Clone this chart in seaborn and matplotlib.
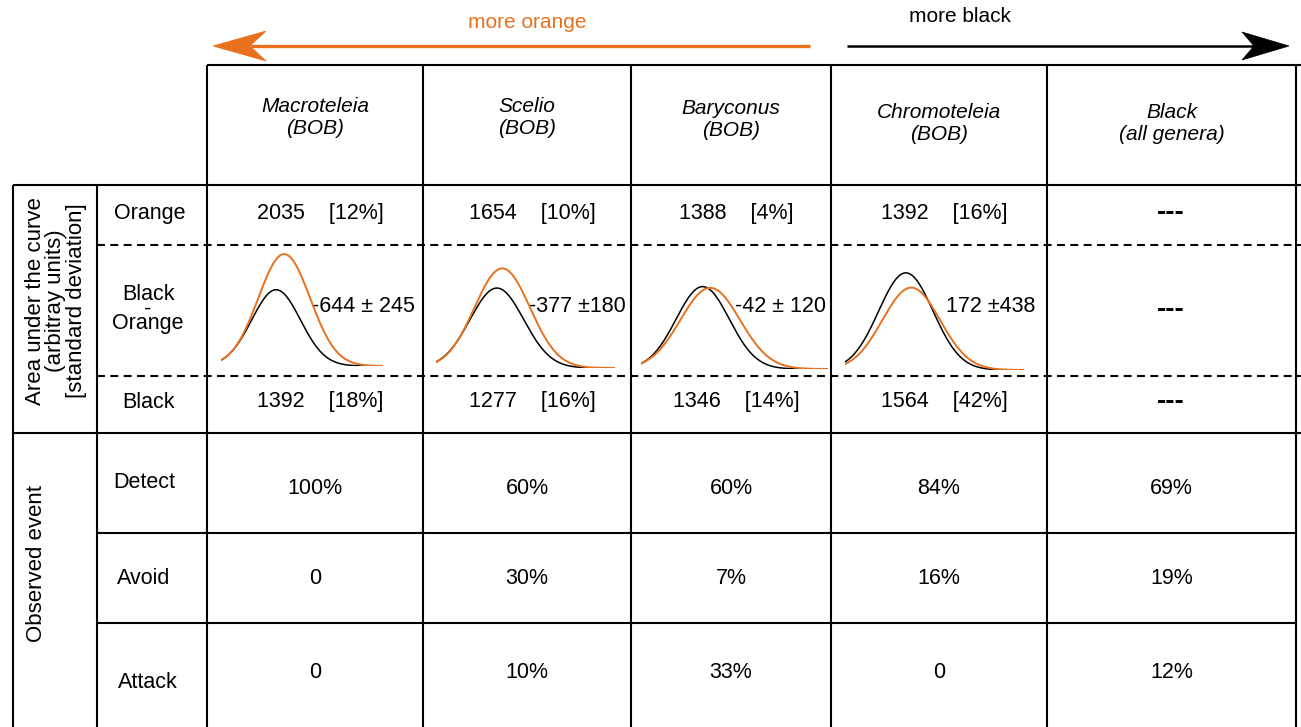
import numpy as np
import pandas as pd
import seaborn as sns
import matplotlib.pyplot as plt
from matplotlib.patches import Polygon

# ---- table content ----
col_names = ["Macroteleia", "Scelio", "Baryconus", "Chromoteleia", "Black"]
col_subs = ["(BOB)", "(BOB)", "(BOB)", "(BOB)", "(all genera)"]

orange_auc = [2035, 1654, 1388, 1392]
orange_sd = [12, 10, 4, 16]
black_auc = [1392, 1277, 1346, 1564]
black_sd = [18, 16, 14, 42]
diff_mean = [-644, -377, -42, 172]
diff_sd = [245, 180, 120, 438]
diff_sep = [" ± ", " ±", " ± ", " ±"]

event_names = ["Detect", "Avoid", "Attack"]
detect = ["100%", "60%", "60%", "84%", "69%"]
avoid = ["0", "30%", "7%", "16%", "19%"]
attack = ["0", "10%", "33%", "0", "12%"]

# schematic response curves (peak position, peak height, width), inset units
black_peak = [0.34, 0.34, 0.33, 0.34]
black_height = [0.62, 0.65, 0.67, 0.79]
black_width = [0.150, 0.150, 0.142, 0.152]
orange_peak = [0.39, 0.37, 0.37, 0.37]
orange_height = [0.91, 0.81, 0.66, 0.67]
orange_width = [0.160, 0.155, 0.159, 0.161]

ORANGE = "#E8711E"
W, H = 1301, 727

sns.set_theme(style="white")
plt.rcParams['font.family'] = ['Liberation Sans', 'DejaVu Sans']
plt.rcParams['text.color'] = 'black'

fig = plt.figure(figsize=(W / 100, H / 100), dpi=100)
ax = fig.add_axes([0, 0, 1, 1])
ax.set_xlim(0, W)
ax.set_ylim(H, 0)
ax.axis('off')

col_edges = [207, 423, 631, 831, 1047, 1296]
col_mid = [(a + b) / 2 for a, b in zip(col_edges[:-1], col_edges[1:])]
solid = dict(color='black', lw=1.5, solid_capstyle='butt')

# grid
for x in col_edges:
    ax.plot([x, x], [65, H], **solid)
for x in [13, 97]:
    ax.plot([x, x], [185, H], **solid)
ax.plot([207, W], [65, 65], **solid)
ax.plot([13, W], [185, 185], **solid)
ax.plot([13, W], [433, 433], **solid)
for y in [533, 623]:
    ax.plot([97, 1296], [y, y], **solid)
for y in [245, 376]:
    ax.plot([97, W], [y, y], color='black', lw=1.5, linestyle=(0, (3.8, 2.6)))

# arrows on top (swept heads)
ax.plot([250, 810], [46, 46], color=ORANGE, lw=2.4, solid_capstyle='butt')
ax.add_patch(Polygon([(213, 46), (266, 31), (250, 46), (266, 61)], closed=True,
                     facecolor=ORANGE, edgecolor=ORANGE, lw=0.5))
ax.plot([847, 1255], [46, 46], color='black', lw=1.8, solid_capstyle='butt')
ax.add_patch(Polygon([(1289, 46), (1242, 32), (1254, 46), (1242, 60)], closed=True,
                     facecolor='black', edgecolor='black', lw=0.5))
ax.text(527, 22, "more orange", color=ORANGE, fontsize=15, ha='center', va='center')
ax.text(960, 17, "more black", color='black', fontsize=15, ha='center', va='center')

# column headers
head_y = [118, 117, 119, 123, 123]
for xm, name, sub, y in zip(col_mid, col_names, col_subs, head_y):
    ax.text(xm, y - 11, name, fontsize=15, style='italic', ha='center', va='center')
    ax.text(xm, y + 11, sub, fontsize=15, style='italic', ha='center', va='center')

# row labels
fs = 15.5
ax.text(150, 213, "Orange", fontsize=fs, ha='center', va='center')
ax.text(148, 309, "Black\n-\nOrange", fontsize=fs, ha='center', va='center', linespacing=0.62)
ax.text(148, 402, "Black", fontsize=fs, ha='center', va='center')
for name, y, x in zip(event_names, [483, 579, 683], [144, 144, 148]):
    ax.text(x, y, name, fontsize=fs, ha='center', va='center')

ax.text(56, 301, "Area under the curve\n(arbitray units)\n[standard deviation]", fontsize=16,
        rotation=90, ha='center', va='center', linespacing=0.95)
ax.text(37, 563, "Observed event", fontsize=16, rotation=90, ha='center', va='center')

# AUC rows
for i in range(4):
    ax.text(col_mid[i] + 5, 213, f"{orange_auc[i]}    [{orange_sd[i]}%]", fontsize=fs, ha='center', va='center')
    ax.text(col_mid[i] + 5, 402, f"{black_auc[i]}    [{black_sd[i]}%]", fontsize=fs, ha='center', va='center')
diff_x = [312, 529, 735, 946]
for i in range(4):
    ax.text(diff_x[i], 307, f"{diff_mean[i]}{diff_sep[i]}{diff_sd[i]}",
            fontsize=fs, ha='left', va='center')
for y in [213, 310, 402]:
    ax.text(col_mid[4] - 1, y, "---", fontsize=20, fontweight='bold', ha='center', va='center')

# observed events
for vals, y in zip([detect, avoid, attack], [488, 579, 672]):
    for xm, v in zip(col_mid, vals):
        ax.text(xm, y, v, fontsize=fs, ha='center', va='center')

# curves in small inset axes
curve_span = [(221, 383, 366), (436, 615, 368), (641, 828, 369), (845, 1024, 370)]
for i, (x0, x1, base) in enumerate(curve_span):
    cax = fig.add_axes([x0 / W, 1 - base / H, (x1 - x0) / W, 123 / H])
    cax.patch.set_alpha(0)
    xs = np.linspace(0, 1, 200)
    df = pd.DataFrame({
        'x': xs,
        'black': black_height[i] * np.exp(-(xs - black_peak[i]) ** 2 / (2 * black_width[i] ** 2)),
        'orange': orange_height[i] * np.exp(-(xs - orange_peak[i]) ** 2 / (2 * orange_width[i] ** 2)),
    })
    sns.lineplot(data=df, x='x', y='black', ax=cax, color='black', lw=1.1)
    sns.lineplot(data=df, x='x', y='orange', ax=cax, color=ORANGE, lw=1.4)
    cax.set_xlim(0, 1)
    cax.set_ylim(0, 1)
    cax.axis('off')

fig.savefig('out.png', dpi=100)
